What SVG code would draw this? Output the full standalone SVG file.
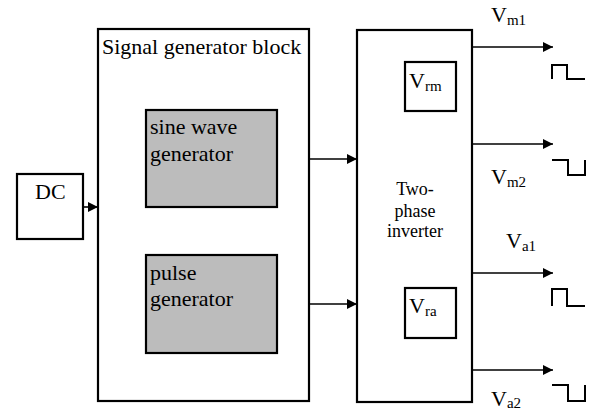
<svg xmlns="http://www.w3.org/2000/svg" width="591" height="414" viewBox="0 0 591 414">
<defs>
<style>
.box{fill:#fff;stroke:#000;stroke-width:2.2}
.gbox{fill:#bcbcbc;stroke:#000;stroke-width:2.2}
.wire{fill:none;stroke:#000;stroke-width:1.6}
.pulse{fill:none;stroke:#000;stroke-width:2}
text{font-family:"Liberation Serif","Times New Roman",serif;fill:#000}
.big{font-size:22px}
.mid{font-size:18px}
.sub{font-size:15px}
</style>
<marker id="arr" viewBox="0 0 10 10" refX="10" refY="5" markerWidth="10" markerHeight="10" markerUnits="userSpaceOnUse" orient="auto">
<path d="M0,0 L10,5 L0,10 Z" fill="#000"/>
</marker>
</defs>
<rect width="591" height="414" fill="#fff"/>
<g id="dc">
<rect class="box" x="17" y="174" width="66" height="65"/>
<text class="big" x="35" y="199">DC</text>
</g>
<g id="signal-generator-block">
<rect class="box" x="98" y="29" width="211" height="372"/>
<text class="big" x="102" y="54">Signal generator block</text>
</g>
<g id="sine-wave-generator">
<rect class="gbox" x="146" y="110" width="131" height="97"/>
<text class="big" x="150" y="134">sine wave</text>
<text class="big" x="150" y="161">generator</text>
</g>
<g id="pulse-generator">
<rect class="gbox" x="146" y="255" width="131" height="98"/>
<text class="big" x="150" y="280">pulse</text>
<text class="big" x="150" y="306">generator</text>
</g>
<g id="two-phase-inverter">
<rect class="box" x="357" y="30" width="115" height="372"/>
<text class="mid" x="415" y="195" text-anchor="middle">Two-</text>
<text class="mid" x="415" y="217" text-anchor="middle">phase</text>
<text class="mid" x="415" y="237" text-anchor="middle">inverter</text>
</g>
<g id="vrm">
<rect class="box" x="405" y="62" width="51" height="49"/>
<text class="big" x="409" y="88">V<tspan class="sub" dy="3">rm</tspan></text>
</g>
<g id="vra">
<rect class="box" x="405" y="288" width="51" height="50"/>
<text class="big" x="409" y="313">V<tspan class="sub" dy="3">ra</tspan></text>
</g>
<g id="connectors">
<line class="wire" x1="83" y1="207" x2="98" y2="207" marker-end="url(#arr)"/>
<line class="wire" x1="309" y1="159" x2="357" y2="159" marker-end="url(#arr)"/>
<line class="wire" x1="309" y1="304" x2="357" y2="304" marker-end="url(#arr)"/>
<line class="wire" x1="472" y1="47" x2="553" y2="47" marker-end="url(#arr)"/>
<line class="wire" x1="472" y1="144" x2="553" y2="144" marker-end="url(#arr)"/>
<line class="wire" x1="472" y1="273" x2="553" y2="273" marker-end="url(#arr)"/>
<line class="wire" x1="472" y1="370" x2="553" y2="370" marker-end="url(#arr)"/>
</g>
<g id="waveforms">
<path class="pulse" d="M552,79 V65 H567 V79 H585"/>
<path class="pulse" d="M552,160 H568 V175 H585 V160"/>
<path class="pulse" d="M552,306 V289 H567 V306 H585"/>
<path class="pulse" d="M552,385 H568 V401 H585 V385"/>
</g>
<g id="labels">
<text class="big" x="491" y="22">V<tspan class="sub" dy="3">m1</tspan></text>
<text class="big" x="491" y="184">V<tspan class="sub" dy="3">m2</tspan></text>
<text class="big" x="506" y="248">V<tspan class="sub" dy="3">a1</tspan></text>
<text class="big" x="491" y="406">V<tspan class="sub" dy="2">a2</tspan></text>
</g>
</svg>
